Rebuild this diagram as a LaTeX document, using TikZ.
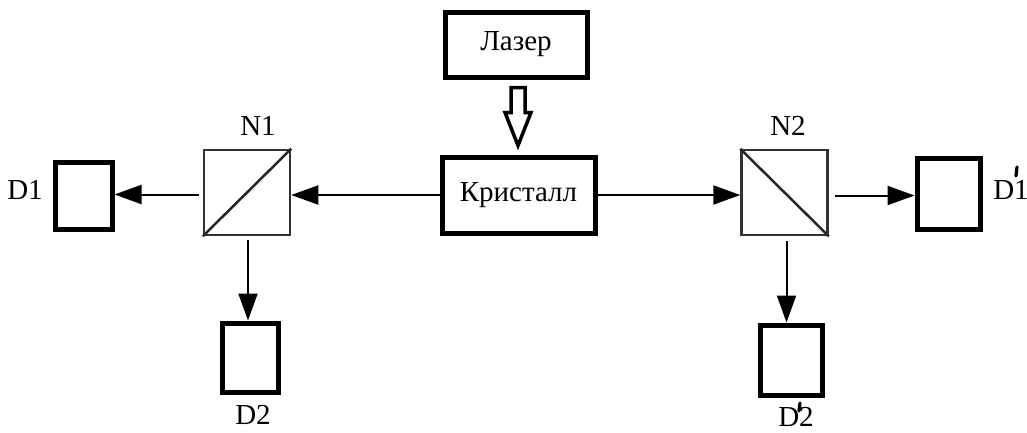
\documentclass[tikz,border=0pt]{standalone}
\usepackage{fontspec}
\setmainfont{Liberation Serif}
\usetikzlibrary{arrows.meta,calc}
\begin{document}
\begin{tikzpicture}[x=1pt,y=-1pt,
  thickbox/.style={draw,line width=5pt,inner sep=0pt},
  splitter/.style={draw=black!80,line width=2.5pt,inner sep=0pt,minimum width=86pt,minimum height=85pt},
  lbl/.style={inner sep=0pt,font=\fontsize{29}{32}\selectfont},
  primemark/.style={line width=3.2pt,line cap=round},
  arr/.style={line width=2pt,-{Triangle[length=27pt,width=19pt]}}]
\useasboundingbox (0,0) rectangle (1027,432);
\node[thickbox,minimum width=142pt,minimum height=65pt,lbl] (laser) at (516,44.5) {Лазер};
\node[thickbox,minimum width=153pt,minimum height=76pt,lbl] (crystal) at (518.5,195) {Кристалл};
\node[splitter] (n1) at (247,192.5) {};
\draw[line width=2.5pt,black!85] (n1.south west) -- (n1.north east);
\node[splitter] (n2) at (784.5,192.5) {};
\draw[line width=2.5pt,black!85] (n2.north west) -- (n2.south east);
\node[thickbox,minimum width=57pt,minimum height=67pt] (d1) at (83.5,195.5) {};
\node[thickbox,minimum width=56pt,minimum height=69pt] (d2) at (250,357.5) {};
\node[thickbox,minimum width=63pt,minimum height=71pt] (d1p) at (948.5,193.5) {};
\node[thickbox,minimum width=62pt,minimum height=70pt] (d2p) at (791,360) {};
\node[lbl] (ln1) at (258,126) {N1};
\node[lbl] (ln2) at (788,126) {N2};
\node[lbl] (ld1) at (25,190) {D1};
\node[lbl] (ld2) at (253,415) {D2};
\node[lbl] (ld1p) at (1011,190) {D1};
\node[lbl] (ld2p) at (796,417) {D2};
\draw[primemark] ($(ld1p.center)+(6,-23)$) -- ($(ld1p.center)+(5,-14)$);
\draw[primemark] ($(ld2p.center)+(4,-14)$) -- ($(ld2p.center)+(3,-6)$);
% connectors
\draw[arr] (crystal.west) -- (n1.east |- crystal.west);
\draw[arr] (crystal.east) -- (n2.west |- crystal.east);
\draw[arr] ($(n1.west)+(-4,2)$) -- (d1.east |- {$(n1.west)+(0,2)$});
\draw[arr] ($(n1.south)+(1,4)$) -- (d2.north -| {$(n1.south)+(1,0)$});
\draw[arr] ($(n2.east)+(6,3)$) -- (d1p.west |- {$(n2.east)+(0,3)$});
\draw[arr] ($(n2.south)+(2,5)$) -- (d2p.north -| {$(n2.south)+(2,0)$});
% hollow arrow laser -> crystal
\coordinate (hs) at ($(laser.south)+(2,8)$);
\coordinate (ht) at ($(crystal.north)+(-0.5,-9)$);
\draw[line width=3.5pt,line join=miter,fill=white]
  ($(hs)+(-7,0)$) -- ($(hs)+(7,0)$) -- ($(ht)+(7,-33)$) -- ($(ht)+(13,-33)$) -- (ht)
  -- ($(ht)+(-13,-33)$) -- ($(ht)+(-7,-33)$) -- cycle;
\end{tikzpicture}
\end{document}
